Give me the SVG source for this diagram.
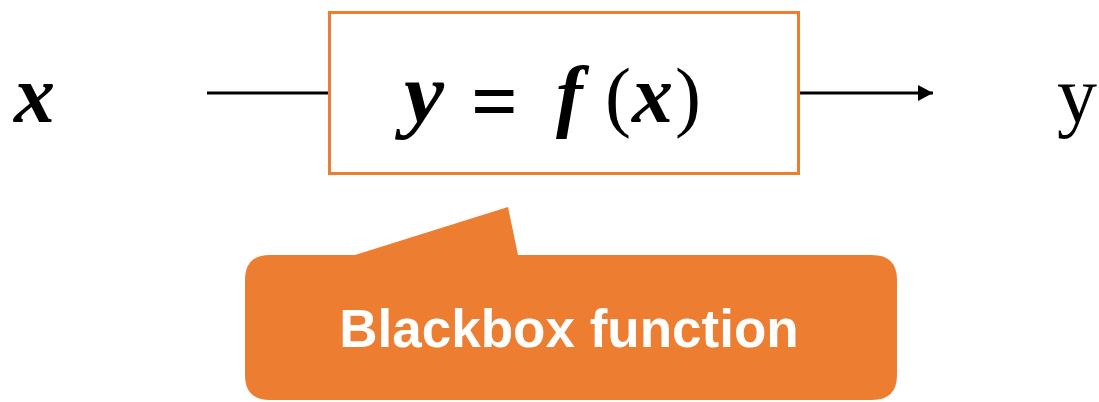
<svg xmlns="http://www.w3.org/2000/svg" width="1099" height="402" viewBox="0 0 1099 402">
<defs>
<style>
.var{font-family:"Liberation Serif","DejaVu Serif",serif;font-weight:bold;font-style:italic;fill:#000}
.sym{font-family:"Liberation Serif","DejaVu Serif",serif;fill:#000}
.conn{stroke:#000;stroke-width:3;fill:none}
.lbl{font-family:"Liberation Sans",Arial,sans-serif;font-weight:bold;fill:#fff}
</style>
<marker id="arr" markerWidth="16" markerHeight="16" refX="15" refY="8" orient="auto" markerUnits="userSpaceOnUse">
<path d="M0,0 L15,8 L0,16 Z" fill="#000"/>
</marker>
</defs>
<rect width="1099" height="402" fill="#fff"/>
<g id="input">
<text class="var" x="14" y="122" font-size="82">x</text>
</g>
<g id="connectors">
<line class="conn" x1="207" y1="93" x2="329" y2="93"/>
<line class="conn" x1="799" y1="93" x2="933" y2="93" marker-end="url(#arr)"/>
</g>
<g id="blackbox">
<rect x="329.5" y="12.5" width="469" height="161" fill="#fff" stroke="#ED7D31" stroke-width="3"/>
<text class="var" x="404" y="122" font-size="84" textLength="40" lengthAdjust="spacingAndGlyphs">y</text>
<text class="sym" x="471" y="130" font-size="86" font-weight="bold" textLength="47" lengthAdjust="spacingAndGlyphs">=</text>
<text class="var" x="556" y="122" font-size="80">f</text>
<text class="sym" x="605" y="122" font-size="78">(</text>
<text class="var" x="632" y="122" font-size="82">x</text>
<text class="sym" x="675" y="122" font-size="78">)</text>
</g>
<g id="output">
<text class="sym" x="1057" y="122" font-size="80">y</text>
</g>
<g id="callout">
<path d="M270,255 L355,255 L508,207 L518,255 L872,255 Q897,255 897,280 L897,375 Q897,400 872,400 L270,400 Q245,400 245,375 L245,280 Q245,255 270,255 Z" fill="#ED7D31"/>
<text class="lbl" x="569" y="347" font-size="53" text-anchor="middle">Blackbox function</text>
</g>
</svg>
